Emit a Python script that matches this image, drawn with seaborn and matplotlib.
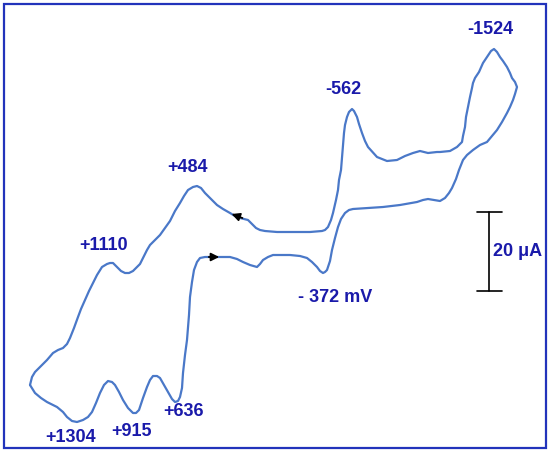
import pandas as pd
import matplotlib.pyplot as plt
import seaborn as sns
from matplotlib.patches import Rectangle

# cyclic voltammogram trace (potential axis runs
# left = positive, current in picture units; closed loop)
potential = [
    30, 35, 41, 47, 57, 63, 67, 72, 77, 83, 88, 92, 96, 100, 104, 108, 112,
    115, 119, 123, 128, 133, 136, 139, 143, 147, 150, 153, 157, 160, 164, 168,
    172, 175, 178, 180, 182, 183, 185, 187, 189, 190, 192, 194, 197, 200, 205,
    215, 230, 237, 243, 250, 257, 260, 263, 268, 273, 282, 290, 300, 307, 312,
    317, 320, 323, 325, 327, 330, 332, 335, 338, 341, 345, 349, 353, 368, 383,
    400, 417, 423, 428, 434, 440, 445, 449, 452, 456, 459, 463, 467, 473, 480,
    487, 492, 497, 502, 507, 510, 513, 515, 517, 515, 512, 510, 507, 503, 500,
    497, 494, 491, 487, 483, 479, 475, 473, 472, 470, 468, 466, 465, 463, 462,
    457, 450, 440, 437, 428, 420, 413, 405, 397, 387, 377, 368, 365, 362, 359,
    357, 354, 352, 349, 347, 345, 344, 343, 342, 341, 339, 338, 336, 333, 331,
    328, 325, 322, 310, 300, 277, 265, 260, 256, 253, 250, 248, 240, 235, 230,
    223, 217, 211, 205, 201, 197, 193, 188, 184, 180, 175, 170, 165, 160, 155,
    150, 147, 143, 140, 137, 133, 129, 125, 121, 117, 113, 110, 107, 102, 97,
    93, 89, 85, 81, 78, 74, 70, 67, 63, 58, 53, 47, 40, 35, 32, 30,
]
current = [
    385, 393, 398, 402, 407, 412, 417, 421, 422, 420, 417, 412, 403, 393, 385,
    381, 382, 385, 392, 400, 408, 413, 413, 410, 398, 387, 380, 376, 376, 378,
    385, 392, 399, 402, 401, 397, 388, 373, 355, 340, 315, 297, 282, 270, 262,
    258, 257, 257, 257, 259, 262, 265, 267, 264, 260, 257, 255, 255, 255, 256,
    258, 262, 267, 271, 273, 272, 270, 261, 250, 238, 227, 219, 213, 210, 209,
    208, 207, 205, 202, 200, 199, 200, 201, 198, 193, 188, 179, 170, 160, 155,
    150, 145, 142, 136, 130, 122, 113, 107, 100, 94, 87, 82, 78, 73, 67, 61,
    57, 52, 49, 51, 57, 63, 72, 78, 83, 88, 97, 107, 117, 127, 136, 142, 147,
    151, 152, 152, 153, 151, 153, 156, 160, 161, 157, 147, 141, 133, 124, 117,
    111, 109, 112, 117, 125, 133, 145, 157, 170, 180, 190, 200, 213, 220, 227,
    230, 231, 232, 232, 232, 231, 230, 228, 225, 222, 220, 218, 216, 213, 209,
    205, 199, 193, 188, 186, 187, 190, 196, 203, 211, 221, 228, 235, 240, 245,
    250, 258, 264, 267, 271, 273, 273, 271, 267, 263, 263, 264, 267, 275, 283,
    291, 300, 309, 317, 328, 338, 344, 348, 350, 353, 360, 367, 372, 377, 385,
]

# peak labels (mV)
peak_labels = ["-1524", "-562", "+484", "+1110", "- 372 mV",
               "+1304", "+915", "+636"]
label_x = [490, 343, 188, 104, 335, 71, 131, 183]
label_y = [29, 89, 168, 245, 297, 438, 432, 411]

# 20 uA scale bar
bar_x = 489
bar_top, bar_bottom = 212, 291

TEXT_BLUE = "#1a1aaa"
LINE_BLUE = "#4a78c8"

sns.set_style("white")
plt.rcParams["font.family"] = ["Liberation Sans", "DejaVu Sans"]

df = pd.DataFrame({"E": potential, "I": current})

fig = plt.figure(figsize=(5.5, 4.53), dpi=100)
ax = fig.add_axes([0, 0, 1, 1])
ax.set_xlim(0, 550)
ax.set_ylim(453, 0)
ax.axis("off")

sns.lineplot(data=df, x="E", y="I", sort=False, estimator=None,
             color=LINE_BLUE, lw=1.6, ax=ax,
             solid_joinstyle="round", solid_capstyle="round")

for txt, x, y in zip(peak_labels, label_x, label_y):
    ax.text(x, y, txt, ha="center", va="center", fontsize=13,
            fontweight="bold", color=TEXT_BLUE)

# scan direction arrows
arrow = dict(arrowstyle="-|>", color="black", lw=1.3, mutation_scale=12)
ax.annotate("", xy=(229, 213), xytext=(245, 219), arrowprops=arrow)
ax.annotate("", xy=(222, 257), xytext=(206, 257), arrowprops=arrow)

# scale bar
ax.plot([bar_x, bar_x], [bar_top, bar_bottom], color="black", lw=1.2)
ax.plot([bar_x - 12, bar_x + 13], [bar_top, bar_top], color="black", lw=1.2)
ax.plot([bar_x - 12, bar_x + 13], [bar_bottom, bar_bottom], color="black", lw=1.2)
ax.text(518, 251, "20 μA", ha="center", va="center", fontsize=13,
        fontweight="bold", color=TEXT_BLUE)

# frame
ax.add_patch(Rectangle((4, 4), 542, 444, fill=False, edgecolor="#2233bb",
                       lw=1.6))

fig.savefig("out.png", dpi=100)
